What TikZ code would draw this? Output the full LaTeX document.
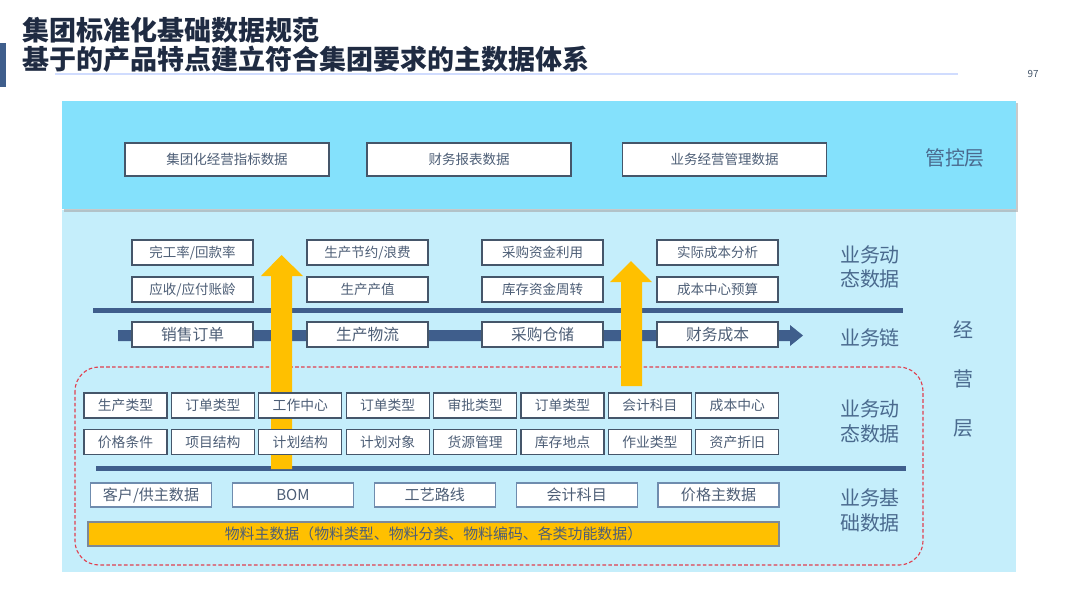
\documentclass[tikz,border=0pt]{standalone}
\usepackage{fontspec}
\setmainfont{Noto Sans CJK SC}
\definecolor{titlec}{HTML}{1F2B42}
\definecolor{barblue}{HTML}{3F5E8C}
\definecolor{topcyan}{HTML}{84E1FC}
\definecolor{lowcyan}{HTML}{C5EEFB}
\definecolor{boxline}{HTML}{45566A}
\definecolor{baseline}{HTML}{6F8CAE}
\definecolor{boxtext}{HTML}{4D5E76}
\definecolor{lblc}{HTML}{4A6A8E}
\definecolor{gold}{HTML}{FFC000}
\definecolor{dashred}{HTML}{E0404F}
\tikzset{
  cell/.style={draw=boxline,fill=white,line width=0.9pt,inner sep=0pt,text=boxtext},
  topbox/.style={cell,minimum width=5.1cm,minimum height=0.825cm,font=\fontsize{9.6pt}{11pt}\selectfont},
  dynbox/.style={cell,minimum width=3.025cm,minimum height=0.625cm,font=\fontsize{9.6pt}{11pt}\selectfont},
  chainbox/.style={cell,minimum width=3.025cm,minimum height=0.625cm,font=\fontsize{11.2pt}{13pt}\selectfont},
  typebox/.style={cell,minimum width=2.075cm,minimum height=0.62cm,font=\fontsize{9.8pt}{11pt}\selectfont},
  basebox/.style={cell,draw=baseline,minimum width=3.025cm,minimum height=0.6cm,font=\fontsize{10.7pt}{12pt}\selectfont},
  layer/.style={text=lblc,align=center,font=\fontsize{14.2pt}{17.4pt}\selectfont},
}
\begin{document}
\begin{tikzpicture}[x=0.025cm,y=-0.025cm]
\useasboundingbox[fill=white](0,0)rectangle(1080,608);
% title
\fill[barblue](0,43)rectangle(6,87);
\node[anchor=west,text=titlec,font=\fontsize{19.2pt}{23pt}\selectfont\bfseries,inner sep=0pt](title1)at(22,30){集团标准化基础数据规范};
\node[anchor=west,text=titlec,font=\fontsize{19.2pt}{23pt}\selectfont\bfseries,inner sep=0pt](title2)at(22,59){基于的产品特点建立符合集团要求的主数据体系};
\draw[line width=1.2pt,color=lowcyan!70!blue!40](55,74)--(958,74);
\node[text=boxline,font=\fontsize{7pt}{8pt}\selectfont](page)at(1033,74){97};
% panels
\fill[lowcyan](62,210)rectangle(1016,572);
\fill[gray!70,opacity=0.6](64,103)rectangle(1018,212);
\fill[topcyan](62,101)rectangle(1016,209);
\draw[dashred,line width=0.8pt,dash pattern=on 2.6pt off 1.6pt,rounded corners=0.6cm](75,367)rectangle(923,565);
% control layer
\node[topbox](kpi)at(227,159.5){集团化经营指标数据};
\node[topbox](report)at(469,159.5){财务报表数据};
\node[topbox](mgmt)at(724.5,159.5){业务经营管理数据};
\node[layer](ctrl)at(955,158){管控层};
% blue lines and chain arrow
\fill[barblue](93,307.5)rectangle(903,312.5);
\fill[barblue](96,465.5)rectangle(906,470.5);
\fill[barblue](118,330)rectangle(790,341)--(790,325)--(803,335.5)--(790,346)--cycle;
% yellow arrows
\fill[gold](271,469)--(271,276)--(261,276)--(281.5,255)--(303,276)--(292,276)--(292,469)--cycle;
\fill[gold](621,386)--(621,282)--(610,282)--(631,261)--(652,282)--(642,282)--(642,386)--cycle;
% dynamic data
\foreach \t [count=\i from 0] in {{完工率/回款率},{生产节约/浪费},{采购资金利用},{实际成本分析}}
  \node[dynbox](dynA\i)at(192.5+175*\i,252.5){\t};
\foreach \t [count=\i from 0] in {{应收/应付账龄},{生产产值},{库存资金周转},{成本中心预算}}
  \node[dynbox](dynB\i)at(192.5+175*\i,289.5){\t};
\foreach \t [count=\i from 0] in {销售订单,生产物流,采购仓储,财务成本}
  \node[chainbox](chain\i)at(192.5+175*\i,334.5){\t};
\node[layer](dynlbl)at(870,267){业务动\\态数据};
\node[layer](chainlbl)at(870,338){业务链};
\node[layer](oplbl)at(963,379){经\\[0.62cm]营\\[0.62cm]层};
% types
\foreach \t [count=\i from 0] in {生产类型,订单类型,工作中心,订单类型,审批类型,订单类型,会计科目,成本中心}
  \node[typebox](typeA\i)at(125.5+87.4*\i,405.5){\t};
\foreach \t [count=\i from 0] in {价格条件,项目结构,计划结构,计划对象,货源管理,库存地点,作业类型,资产折旧}
  \node[typebox](typeB\i)at(125.5+87.4*\i,442){\t};
\node[layer](typelbl)at(870,421.5){业务动\\态数据};
% base data
\foreach \t [count=\i from 0] in {{客户/供主数据},BOM,工艺路线,会计科目,价格主数据}
  \node[basebox](base\i)at(151+141.9*\i,495){\t};
\node[cell,draw=boxline!70,fill=gold,minimum width=17.275cm,minimum height=0.6cm,font=\fontsize{10.6pt}{12pt}\selectfont](material)at(433.5,534){物料主数据（物料类型、物料分类、物料编码、各类功能数据）};
\node[layer](baselbl)at(870,510.5){业务基\\础数据};
\end{tikzpicture}
\end{document}
